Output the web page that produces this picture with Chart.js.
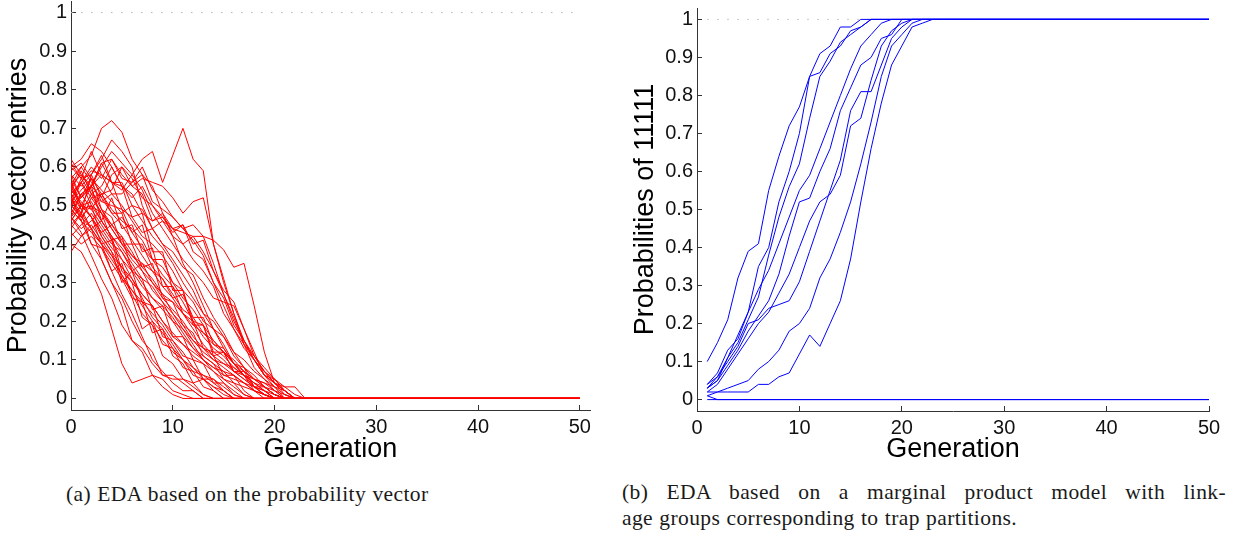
<!DOCTYPE html>
<html>
<head>
<meta charset="utf-8">
<script src="https://cdn.jsdelivr.net/npm/chart.js@4.4.1/dist/chart.umd.min.js"></script>
<style>
  html, body { margin: 0; padding: 0; background: #fff; }
  body { width: 1233px; height: 540px; position: relative; overflow: hidden; }
  canvas { position: absolute; top: -20px; }
  #chartA { left: 0; }
  #chartB { left: 620px; }
  .caption {
    position: absolute;
    font-family: "Liberation Serif", "Times New Roman", serif;
    font-size: 21.5px;
    line-height: 26px;
    letter-spacing: 0.4px;
    word-spacing: 0.5px;
    color: #1a1a1a;
    white-space: nowrap;
  }
  #capA { left: 66px; top: 481px; }
  #capB { left: 622px; top: 479px; width: 604px; }
  #capB .l1 { text-align: justify; text-align-last: justify; }
</style>
</head>
<body>
<canvas id="chartA" width="615" height="490"></canvas>
<canvas id="chartB" width="613" height="490"></canvas>
<div class="caption" id="capA">(a) EDA based on the probability vector</div>
<div class="caption" id="capB">
  <div class="l1">(b) EDA based on a marginal product model with link-</div>
  <div>age groups corresponding to trap partitions.</div>
</div>
<script>
var GEN_LAST = 50;

var xTickValues = [0, 10, 20, 30, 40, 50];
var yTickValues = [0, 0.1, 0.2, 0.3, 0.4, 0.5, 0.6, 0.7, 0.8, 0.9, 1];
var yTickLabels = ['0', '0.1', '0.2', '0.3', '0.4', '0.5', '0.6', '0.7', '0.8', '0.9', '1'];

// (a) probability vector entries, from generation 0 until the entry reaches 0
var pv01 = [0.55,0.60,0.63,0.70,0.72,0.69,0.62,0.58,0.55,0.48,0.42,0.35,0.30,0.24,0.18,0.13,0.09,0.06,0.03,0.01,0];
var pv02 = [0.50,0.52,0.55,0.58,0.56,0.54,0.58,0.62,0.64,0.56,0.63,0.70,0.62,0.59,0.40,0.30,0.22,0.14,0.08,0.05,0.02,0];
var pv03 = [0.52,0.56,0.60,0.57,0.62,0.58,0.55,0.57,0.56,0.55,0.52,0.48,0.51,0.52,0.40,0.31,0.22,0.15,0.10,0.06,0.03,0];
var pv04 = [0.47,0.50,0.55,0.52,0.58,0.60,0.57,0.52,0.50,0.47,0.44,0.43,0.42,0.42,0.41,0.385,0.34,0.35,0.24,0.12,0.04,0.01,0];
var pv05 = [0.60,0.62,0.66,0.64,0.60,0.55,0.52,0.55,0.50,0.46,0.44,0.40,0.42,0.38,0.33,0.28,0.25,0.18,0.12,0.06,0.04,0.03,0.03,0];
var pv06 = [0.62,0.58,0.55,0.60,0.64,0.61,0.58,0.54,0.48,0.44,0.40,0.36,0.33,0.30,0.26,0.25,0.24,0.18,0.11,0.07,0.04,0.02,0];
var pv07 = [0.50,0.48,0.58,0.62,0.67,0.64,0.60,0.50,0.44,0.40,0.36,0.32,0.28,0.22,0.18,0.14,0.09,0.06,0.04,0.02,0];
var pv08 = [0.40,0.38,0.33,0.27,0.18,0.09,0.04,0.05,0.06,0.03,0.01,0];
var pv09 = [0.45,0.42,0.44,0.36,0.30,0.24,0.15,0.12,0.06,0.05,0.02,0.01,0];
var pv10 = [0.52,0.46,0.40,0.36,0.30,0.26,0.20,0.15,0.12,0.06,0.06,0.04,0.02,0];
var pv11 = [0.58,0.52,0.55,0.46,0.42,0.33,0.30,0.21,0.19,0.11,0.09,0.05,0.04,0.01,0];
var pv12 = [0.56,0.50,0.47,0.40,0.41,0.31,0.26,0.18,0.20,0.14,0.13,0.08,0.07,0.03,0.02,0];
var pv13 = [0.44,0.48,0.40,0.39,0.33,0.35,0.26,0.25,0.17,0.18,0.11,0.09,0.04,0.05,0.02,0];
var pv14 = [0.53,0.49,0.50,0.42,0.38,0.30,0.33,0.25,0.24,0.16,0.15,0.11,0.10,0.05,0.05,0.02,0];
var pv15 = [0.50,0.56,0.50,0.48,0.41,0.42,0.33,0.31,0.23,0.24,0.16,0.16,0.10,0.09,0.04,0.04,0.01,0];
var pv16 = [0.57,0.52,0.57,0.49,0.47,0.40,0.40,0.34,0.35,0.26,0.25,0.19,0.17,0.11,0.09,0.05,0.04,0.01,0];
var pv17 = [0.46,0.50,0.51,0.46,0.52,0.44,0.45,0.38,0.39,0.29,0.29,0.22,0.20,0.13,0.11,0.06,0.06,0.02,0];
var pv18 = [0.54,0.59,0.53,0.51,0.50,0.49,0.43,0.45,0.36,0.36,0.30,0.28,0.20,0.19,0.12,0.12,0.07,0.06,0.02,0.01,0];
var pv19 = [0.49,0.46,0.52,0.53,0.48,0.48,0.40,0.40,0.34,0.31,0.26,0.27,0.21,0.21,0.14,0.13,0.09,0.08,0.03,0.02,0];
var pv20 = [0.51,0.57,0.58,0.63,0.56,0.55,0.47,0.48,0.38,0.38,0.28,0.28,0.19,0.19,0.11,0.12,0.07,0.07,0.03,0.03,0.01,0];
var pv21 = [0.55,0.50,0.49,0.53,0.54,0.60,0.55,0.53,0.46,0.48,0.44,0.45,0.40,0.41,0.33,0.27,0.20,0.15,0.10,0.07,0.04,0.02,0];
var pv22 = [0.59,0.61,0.57,0.54,0.51,0.48,0.50,0.46,0.42,0.39,0.35,0.30,0.26,0.22,0.20,0.16,0.11,0.08,0.05,0.03,0.01,0];
var pv23 = [0.47,0.44,0.46,0.49,0.45,0.41,0.37,0.35,0.33,0.29,0.26,0.22,0.18,0.14,0.11,0.09,0.07,0.05,0.03,0.01,0];
var pv24 = [0.42,0.45,0.48,0.44,0.40,0.38,0.34,0.30,0.26,0.24,0.21,0.17,0.13,0.10,0.07,0.05,0.03,0.01,0];
var pv25 = [0.53,0.56,0.59,0.58,0.53,0.53,0.56,0.60,0.54,0.51,0.47,0.44,0.45,0.42,0.35,0.27,0.21,0.14,0.10,0.06,0.04,0.02,0];
var pv26 = [0.56,0.50,0.47,0.43,0.45,0.42,0.38,0.33,0.30,0.27,0.22,0.19,0.15,0.12,0.10,0.08,0.06,0.04,0.02,0];
var pv27 = [0.50,0.53,0.49,0.45,0.41,0.36,0.31,0.27,0.24,0.20,0.17,0.14,0.12,0.10,0.08,0.06,0.05,0.04,0.03,0.02,0.01,0];
var pv28 = [0.48,0.53,0.55,0.61,0.56,0.56,0.50,0.49,0.44,0.46,0.42,0.40,0.36,0.33,0.29,0.22,0.18,0.13,0.10,0.06,0.05,0.02,0];
var pv29 = [0.60,0.57,0.53,0.48,0.44,0.40,0.36,0.33,0.28,0.25,0.22,0.18,0.15,0.13,0.10,0.09,0.08,0.06,0.04,0.02,0];
var pv30 = [0.45,0.48,0.44,0.40,0.37,0.34,0.30,0.27,0.24,0.20,0.16,0.14,0.11,0.09,0.07,0.04,0.02,0];
var pv31 = [0.52,0.48,0.53,0.55,0.60,0.55,0.53,0.48,0.46,0.47,0.43,0.45,0.38,0.36,0.30,0.26,0.19,0.15,0.11,0.07,0.05,0.02,0];
var pv32 = [0.58,0.55,0.58,0.52,0.48,0.45,0.41,0.37,0.33,0.31,0.27,0.23,0.21,0.17,0.14,0.12,0.10,0.07,0.05,0.03,0.01,0];
var pv33 = [0.54,0.51,0.47,0.42,0.38,0.34,0.31,0.26,0.21,0.18,0.14,0.10,0.07,0.06,0.05,0.03,0.01,0];
var pv34 = [0.49,0.46,0.43,0.40,0.36,0.32,0.27,0.22,0.19,0.15,0.12,0.10,0.06,0.05,0.03,0.02,0];
var pv35 = [0.51,0.54,0.57,0.53,0.49,0.46,0.44,0.41,0.36,0.32,0.29,0.25,0.20,0.16,0.13,0.11,0.08,0.06,0.05,0.04,0.02,0.01,0];
var pv36 = [0.43,0.40,0.42,0.39,0.35,0.31,0.28,0.25,0.22,0.19,0.15,0.12,0.08,0.06,0.04,0.02,0];
var pv37 = [0.57,0.60,0.56,0.51,0.53,0.50,0.46,0.42,0.40,0.37,0.33,0.28,0.25,0.20,0.18,0.16,0.12,0.08,0.06,0.03,0.01,0];
var pv38 = [0.46,0.50,0.47,0.43,0.39,0.36,0.33,0.35,0.30,0.26,0.23,0.20,0.16,0.13,0.12,0.10,0.07,0.05,0.03,0.01,0];
var pv39 = [0.55,0.58,0.54,0.49,0.44,0.40,0.37,0.34,0.31,0.27,0.25,0.22,0.19,0.17,0.15,0.12,0.09,0.07,0.05,0.04,0.03,0.02,0];
var pv40 = [0.52,0.47,0.44,0.46,0.42,0.39,0.35,0.31,0.29,0.25,0.20,0.16,0.13,0.11,0.09,0.07,0.06,0.04,0.02,0.01,0];
var pv41 = [0.61,0.57,0.64,0.58,0.56,0.49,0.47,0.43,0.44,0.40,0.38,0.34,0.32,0.26,0.21,0.17,0.12,0.10,0.07,0.05,0.03,0.01,0];
var pv42 = [0.50,0.47,0.50,0.46,0.42,0.38,0.33,0.29,0.26,0.23,0.20,0.18,0.14,0.10,0.08,0.07,0.04,0.03,0.02,0.01,0];
var pv43 = [0.38,0.42,0.45,0.41,0.37,0.32,0.28,0.24,0.20,0.17,0.13,0.10,0.08,0.05,0.03,0.01,0];
var pv44 = [0.53,0.56,0.52,0.48,0.45,0.47,0.43,0.39,0.36,0.34,0.30,0.26,0.23,0.19,0.15,0.12,0.09,0.06,0.04,0.03,0.02,0];
var pv45 = [0.47,0.53,0.55,0.61,0.62,0.57,0.56,0.58,0.51,0.49,0.47,0.44,0.41,0.37,0.30,0.24,0.18,0.14,0.11,0.08,0.05,0.03,0.01,0];
var pv46 = [0.47,0.43,0.37,0.31,0.26,0.19,0.15,0.13,0.09,0.06,0.05,0.05,0.03,0.01,0];
var pv47 = [0.55,0.49,0.44,0.40,0.33,0.27,0.22,0.16,0.10,0.07,0.04,0.02,0.02,0];

var pvRuns = [pv01, pv02, pv03, pv04, pv05, pv06, pv07, pv08, pv09, pv10,
              pv11, pv12, pv13, pv14, pv15, pv16, pv17, pv18, pv19, pv20,
              pv21, pv22, pv23, pv24, pv25, pv26, pv27, pv28, pv29, pv30,
              pv31, pv32, pv33, pv34, pv35, pv36, pv37, pv38, pv39, pv40,
              pv41, pv42, pv43, pv44, pv45, pv46, pv47];

// (b) probability of 11111 in each trap partition, from generation 1 until it settles
var mp01 = [0.10,0.15,0.21,0.32,0.39,0.41,0.55,0.64,0.72,0.77,0.85,0.91,0.93,0.98,0.98,1.0];
var mp02 = [0.04,0.07,0.13,0.16,0.23,0.35,0.40,0.52,0.60,0.70,0.85,0.86,0.91,0.93,0.97,0.98,1.0];
var mp03 = [0.03,0.05,0.11,0.15,0.21,0.27,0.38,0.48,0.56,0.62,0.74,0.85,0.89,0.94,0.96,0.98,1.0];
var mp04 = [0.03,0.05,0.09,0.13,0.18,0.22,0.26,0.33,0.43,0.52,0.53,0.60,0.66,0.76,0.82,0.88,0.90,0.95,0.96,1.0];
var mp05 = [0.03,0.06,0.10,0.14,0.20,0.21,0.24,0.25,0.26,0.31,0.39,0.47,0.55,0.63,0.76,0.81,0.81,0.88,0.95,0.98,1.0];
var mp06 = [0.02,0.04,0.08,0.12,0.16,0.20,0.23,0.28,0.33,0.40,0.47,0.52,0.54,0.59,0.72,0.74,0.84,0.93,0.97,0.99,1.0];
var mp07 = [0.01,0.02,0.03,0.04,0.05,0.08,0.10,0.13,0.18,0.20,0.24,0.32,0.37,0.44,0.52,0.62,0.73,0.85,0.93,0.96,0.99,1.0];
var mp08 = [0.02,0.02,0.02,0.02,0.02,0.04,0.04,0.06,0.07,0.12,0.17,0.14,0.20,0.26,0.37,0.52,0.66,0.78,0.88,0.93,0.98,0.99,1.0];
var mp09 = [0.04,0.06,0.11,0.17,0.23,0.29,0.34,0.41,0.48,0.55,0.59,0.66,0.73,0.80,0.87,0.93,0.96,0.99,1.0];
var mp10 = [0.01,0];
var mp11 = [0];

var mpRuns = [mp01, mp02, mp03, mp04, mp05, mp06, mp07, mp08, mp09, mp10, mp11];

var SANS = '"Liberation Sans", Arial, Helvetica, sans-serif';

function toPoints(values, firstGen) {
	var points = values.map(function(v, i) {
		return { x: firstGen + i, y: v };
	});
	var lastGen = firstGen + values.length - 1;
	if (lastGen < GEN_LAST) {
		points.push({ x: GEN_LAST, y: values[values.length - 1] });
	}
	return points;
}

function runDatasets(runs, firstGen, color) {
	return runs.map(function(run) {
		return {
			data: toPoints(run, firstGen),
			borderColor: color,
			borderWidth: 1,
			pointRadius: 0,
			tension: 0,
			fill: false
		};
	});
}

function guideDataset(fromGen) {
	// dotted reference line at probability 1
	return {
		data: [{ x: fromGen, y: 1 }, { x: GEN_LAST, y: 1 }],
		borderColor: '#b8b8b8',
		borderWidth: 1,
		borderDash: [1.5, 8.5],
		pointRadius: 0,
		fill: false
	};
}

function axisGrid() {
	return { drawOnChartArea: false, drawTicks: true, tickLength: -5, color: '#333', lineWidth: 1 };
}

function makeChart(canvasId, datasets, o) {
	var ctx = document.getElementById(canvasId).getContext('2d');
	return new Chart(ctx, {
		type: 'line',
		data: { datasets: datasets },
		options: {
			responsive: false,
			animation: false,
			devicePixelRatio: 1,
			layout: { padding: { top: o.padTop, right: o.padRight, bottom: 0, left: 0 } },
			plugins: { legend: { display: false }, tooltip: { enabled: false } },
			scales: {
				x: {
					type: 'linear',
					min: 0,
					max: o.xMax,
					afterBuildTicks: function(scale) {
						scale.ticks = xTickValues.map(function(v) { return { value: v }; });
					},
					ticks: {
						autoSkip: false,
						maxRotation: 0,
						padding: 10,
						color: '#111',
						font: { family: SANS, size: 20 },
						callback: function(v) { return String(v); }
					},
					grid: axisGrid(),
					border: { display: true, color: '#333', width: 1 },
					title: {
						display: true,
						text: 'Generation',
						color: '#000',
						font: { family: SANS, size: 27 },
						padding: { top: 0, bottom: 4 }
					},
					afterFit: function(scale) { scale.height = o.xHeight; }
				},
				y: {
					type: 'linear',
					min: -0.03,
					max: 1.03,
					afterBuildTicks: function(scale) {
						scale.ticks = yTickValues.map(function(v) { return { value: v }; });
					},
					ticks: {
						autoSkip: false,
						padding: 9,
						color: '#111',
						font: { family: SANS, size: 20 },
						callback: function(v, i) { return yTickLabels[i]; }
					},
					grid: axisGrid(),
					border: { display: true, color: '#333', width: 1 },
					title: {
						display: true,
						text: o.yTitle,
						color: '#000',
						font: { family: SANS, size: 27 },
						padding: { top: o.yTitlePad, bottom: 0 }
					},
					afterFit: function(scale) { scale.width = o.yWidth; }
				}
			}
		}
	});
}

var datasetsA = runDatasets(pvRuns, 0, '#ff0000');
datasetsA.push(guideDataset(0));

var datasetsB = runDatasets(mpRuns, 1, '#0000ff');
datasetsB.push(guideDataset(1));

makeChart('chartA', datasetsA, {
	xMax: 51, padTop: 20, padRight: 25, xHeight: 60, yWidth: 71,
	yTitle: 'Probability vector entries', yTitlePad: 2
});

makeChart('chartB', datasetsB, {
	xMax: 50, padTop: 28, padRight: 24, xHeight: 59, yWidth: 77,
	yTitle: 'Probabilities of 11111', yTitlePad: 9
});
</script>
</body>
</html>
